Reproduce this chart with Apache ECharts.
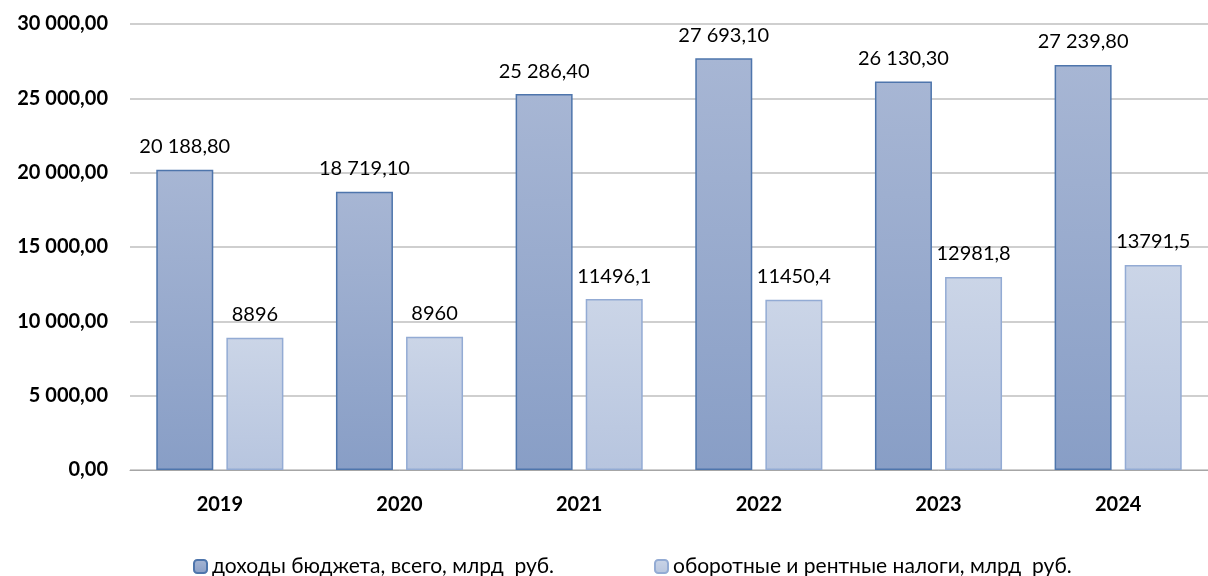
<!DOCTYPE html>
<html>
<head>
<meta charset="utf-8">
<script src="https://cdn.jsdelivr.net/npm/echarts@6/dist/echarts.min.js"></script>
<style>
  html, body { margin: 0; padding: 0; background: #fff; }
  #chart { width: 1208px; height: 576px; }
</style>
</head>
<body>
<div id="chart"></div>
<script>
const years = ['2019', '2020', '2021', '2022', '2023', '2024']
const incomeTotal = [20188.8, 18719.1, 25286.4, 27693.1, 26130.3, 27239.8]
const turnoverTaxes = [8896, 8960, 11496.1, 11450.4, 12981.8, 13791.5]
const seriesNames = ['доходы бюджета, всего, млрд  руб.', 'оборотные и рентные налоги, млрд  руб.']

const font = 'Lato'

// "20 188,80" style
const fmtFixed = (v, d) => {
  const parts = v.toFixed(d).split('.')
  parts[0] = parts[0].replace(/\B(?=(\d{3})+(?!\d))/g, ' ')
  return parts.join(',')
}
const fmtPlain = (v) => String(v).replace('.', ',')

const grad = (top, bottom) => new echarts.graphic.LinearGradient(0, 0, 0, 1, [
  { offset: 0, color: top },
  { offset: 1, color: bottom }
])

const myChart = echarts.init(document.getElementById('chart'))
myChart.setOption({
  animation: false,
  textStyle: { fontFamily: font },
  grid: { left: 130, right: 0, top: 24, bottom: 106 },
  legend: {
    top: 551,
    left: 188,
    itemWidth: 13,
    itemHeight: 13,
    itemGap: 100,
    textStyle: { fontSize: 21, color: '#000', fontFamily: font },
    data: seriesNames
  },
  xAxis: {
    type: 'category',
    data: years,
    axisTick: { show: false },
    axisLine: { lineStyle: { color: '#A6A6A6', width: 1 } },
    axisLabel: { color: '#000', fontWeight: 'bold', fontSize: 20, margin: 25 }
  },
  yAxis: {
    type: 'value',
    min: 0,
    max: 30000,
    interval: 5000,
    axisLine: { show: false },
    axisTick: { show: false },
    splitLine: { lineStyle: { color: '#BFBFBF', width: 1.5 } },
    axisLabel: {
      color: '#000',
      fontWeight: 'bold',
      fontSize: 20,
      margin: 22,
      formatter: (v) => fmtFixed(v, 2)
    }
  },
  series: [
    {
      name: seriesNames[0],
      type: 'bar',
      data: incomeTotal,
      barWidth: 57,
      barGap: '23%',
      itemStyle: {
        color: grad('#A7B6D4', '#889EC6'),
        borderColor: '#4E75AC',
        borderWidth: 1.5
      },
      label: {
        show: true,
        position: 'top',
        distance: 13,
        color: '#000',
        fontSize: 20,
        fontFamily: font,
        formatter: (p) => fmtFixed(p.value, 2)
      }
    },
    {
      name: seriesNames[1],
      type: 'bar',
      data: turnoverTaxes,
      barWidth: 57,
      itemStyle: {
        color: grad('#CBD5E7', '#B7C5DF'),
        borderColor: '#93ABD4',
        borderWidth: 1.5
      },
      label: {
        show: true,
        position: 'top',
        distance: 13,
        color: '#000',
        fontSize: 20,
        fontFamily: font,
        formatter: (p) => fmtPlain(p.value)
      }
    }
  ]
})
</script>
</body>
</html>
